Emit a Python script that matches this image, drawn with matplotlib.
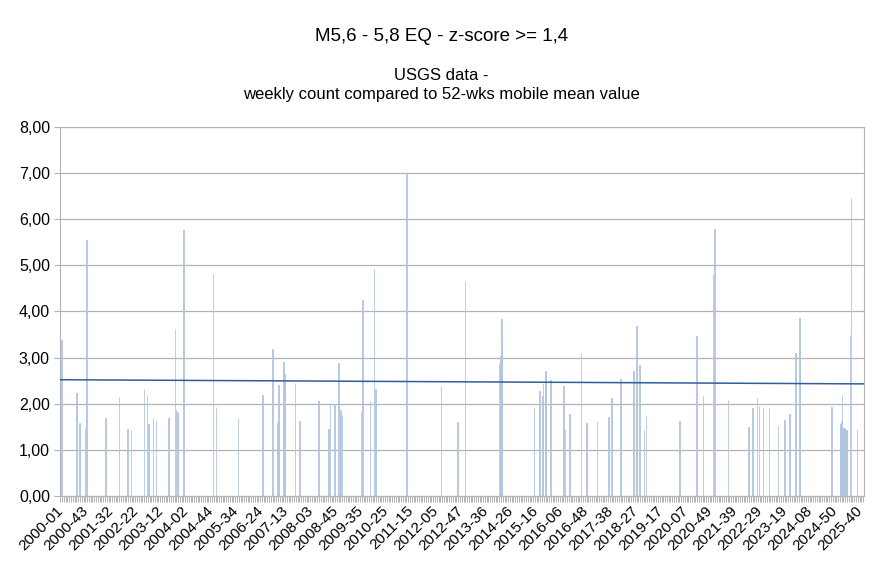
import matplotlib
matplotlib.use('Agg')
import matplotlib.pyplot as plt
from matplotlib.ticker import FuncFormatter, MultipleLocator, FixedLocator
from matplotlib.transforms import ScaledTranslation

plt.rcParams['font.family'] = ['Liberation Sans', 'DejaVu Sans']

# weeks counted from 2000-01 (index 0); only weeks with z-score >= 1,4 carry a value
n_weeks = 1352
event_weeks = [2, 27, 32, 42, 44, 76, 99, 113, 119, 141, 146, 148, 156, 161,
               182, 193, 195, 197, 207, 257, 262, 299,
               340, 357, 365, 367, 375, 377, 395, 402, 434, 451, 454, 461, 468, 471, 474,
               506, 508, 521, 528, 530, 582, 640, 668,
               681, 738, 740, 742, 743, 797, 806, 811, 812, 816, 817, 824,
               846, 849, 856, 876, 885, 886, 902, 922, 927, 942, 964, 969, 970, 974, 982, 985,
               1041, 1070, 1081, 1098, 1100, 1123, 1157, 1164, 1172, 1175,
               1182, 1192, 1207, 1218, 1226, 1236, 1243, 1244, 1297,
               1311, 1312, 1313, 1314, 1315, 1316, 1317, 1318, 1319, 1320, 1321, 1322, 1323,
               1328, 1330, 1340]
event_values = [3.39, 2.24, 1.59, 1.49, 5.54, 1.68, 2.14, 1.46, 1.42, 2.32, 2.18, 1.57, 1.70, 1.64,
                1.70, 3.62, 1.88, 1.81, 5.76, 4.81, 1.93, 1.70,
                2.20, 3.18, 1.58, 2.40, 2.91, 2.64, 2.46, 1.63, 2.05, 1.46, 1.99, 1.99, 2.88, 1.86, 1.75,
                1.83, 4.24, 2.05, 4.91, 2.33, 7.00, 2.38, 1.60,
                4.67, 2.88, 3.03, 3.83, 3.40, 1.92, 2.27, 2.16, 2.46, 2.71, 2.71, 2.52,
                2.38, 1.46, 1.78, 3.09, 1.59, 1.53, 1.62, 1.72, 2.12, 2.53, 2.70, 3.68, 2.11, 2.83, 1.42, 1.73,
                1.62, 3.46, 2.16, 4.81, 5.79, 2.09, 1.49, 1.90, 2.12, 1.95,
                1.94, 1.91, 1.53, 1.64, 1.77, 3.11, 3.86, 3.14, 1.92,
                1.52, 1.55, 1.62, 1.62, 2.20, 1.48, 1.48, 1.47, 1.47, 1.47, 1.44, 1.44, 1.42,
                3.49, 6.46, 1.46]

# 52-wks mobile mean trend (linear), start and end value
trend_start = 2.52
trend_end = 2.43

tick_labels = ['2000-01', '2000-43', '2001-32', '2002-22', '2003-12', '2004-02', '2004-44',
               '2005-34', '2006-24', '2007-13', '2008-03', '2008-45', '2009-35', '2010-25',
               '2011-15', '2012-05', '2012-47', '2013-36', '2014-26', '2015-16', '2016-06',
               '2016-48', '2017-38', '2018-27', '2019-17', '2020-07', '2020-49', '2021-39',
               '2022-29', '2023-19', '2024-08', '2024-50', '2025-40']
label_step = 42

fig = plt.figure(figsize=(8.83, 5.67), dpi=100)
ax = fig.add_axes([0.068, 0.1252, 0.9105, 0.651])

bar_col = '#b2c5df'
ax.bar(event_weeks, event_values, width=0.6, color=bar_col, edgecolor=bar_col, linewidth=0.6, zorder=2)
ax.plot([0, n_weeks - 1], [trend_start, trend_end], color='#2f5f9a', linewidth=1.1, zorder=3)

ax.set_xlim(-0.5, n_weeks - 0.5)
ax.set_ylim(0, 8)
ax.yaxis.set_major_locator(MultipleLocator(1))
ax.yaxis.set_major_formatter(FuncFormatter(lambda v, p: f'{v:.2f}'.replace('.', ',')))
ax.grid(axis='y', color='#b3b3b3', linewidth=0.9, zorder=0)
ax.set_axisbelow(True)

ax.xaxis.set_major_locator(FixedLocator([i * label_step for i in range(len(tick_labels))]))
ax.set_xticklabels(tick_labels, rotation=45, ha='right', rotation_mode='anchor', fontsize=11)
ax.xaxis.set_minor_locator(MultipleLocator(3))
ax.tick_params(axis='x', which='both', length=4, color='#b3b3b3', width=0.7, pad=1.5)
ax.tick_params(axis='y', length=4.3, color='#b3b3b3', labelsize=11.5, pad=3)
shift = ScaledTranslation(-3 / 72, 0, fig.dpi_scale_trans)
for lbl in ax.get_xticklabels():
    lbl.set_transform(lbl.get_transform() + shift)

for s in ax.spines.values():
    s.set_color('#b3b3b3')

fig.text(0.5, 0.935, 'M5,6 - 5,8 EQ - z-score >= 1,4', ha='center', va='center', fontsize=13.5)
fig.text(0.5, 0.866, 'USGS data -', ha='center', va='center', fontsize=12)
fig.text(0.5, 0.833, 'weekly count compared to 52-wks mobile mean value', ha='center', va='center', fontsize=12)

fig.savefig('out.png', dpi=100, facecolor='white')
